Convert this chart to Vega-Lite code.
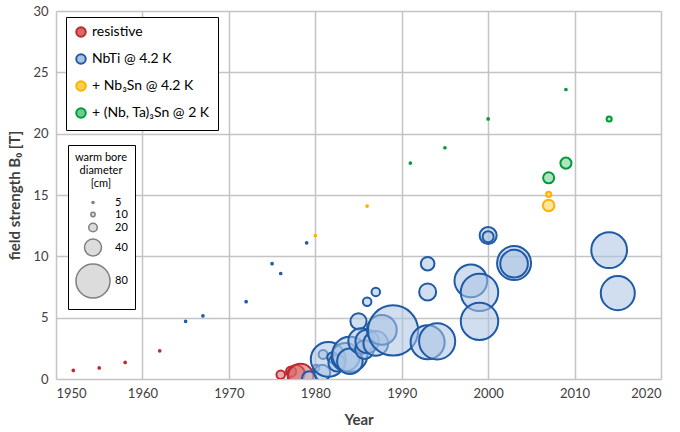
{
  "$schema": "https://vega.github.io/schema/vega-lite/v6.json",
  "width": 605,
  "height": 368,
  "autosize": {"type": "none"},
  "padding": {"left": 56, "top": 11, "right": 19, "bottom": 53},
  "background": "white",
  "config": {
    "font": "Lato",
    "view": {"stroke": null},
    "axis": {
      "grid": true,
      "gridColor": "#c4c4c4",
      "gridWidth": 1.5,
      "domain": false,
      "ticks": false,
      "labelFont": "Lato",
      "labelFontSize": 13,
      "labelColor": "#404040",
      "titleFont": "Lato",
      "titleFontSize": 15,
      "titleFontWeight": "bold",
      "titleColor": "#404040"
    }
  },
  "data": {
    "values": [
      {"year": 1952, "field": 0.7, "bore": 4, "type": "resistive"},
      {"year": 1955, "field": 0.9, "bore": 4, "type": "resistive"},
      {"year": 1958, "field": 1.35, "bore": 4, "type": "resistive"},
      {"year": 1962, "field": 2.3, "bore": 4, "type": "resistive"},
      {"year": 1976, "field": 0.35, "bore": 20, "type": "resistive"},
      {"year": 1977.2, "field": 0.6, "bore": 24, "type": "resistive"},
      {"year": 1977.8, "field": 0.45, "bore": 40, "type": "resistive"},
      {"year": 1978.3, "field": 0.2, "bore": 60, "type": "resistive"},
      {"year": 1965, "field": 4.7, "bore": 4, "type": "NbTi @ 4.2 K"},
      {"year": 1967, "field": 5.15, "bore": 4, "type": "NbTi @ 4.2 K"},
      {"year": 1972, "field": 6.3, "bore": 4, "type": "NbTi @ 4.2 K"},
      {"year": 1975, "field": 9.4, "bore": 4, "type": "NbTi @ 4.2 K"},
      {"year": 1976, "field": 8.6, "bore": 4, "type": "NbTi @ 4.2 K"},
      {"year": 1979, "field": 11.1, "bore": 4, "type": "NbTi @ 4.2 K"},
      {"year": 1979.3, "field": 0.05, "bore": 34, "type": "NbTi @ 4.2 K"},
      {"year": 1980.1, "field": 0.9, "bore": 15, "type": "NbTi @ 4.2 K"},
      {"year": 1980.8, "field": 0.5, "bore": 38, "type": "NbTi @ 4.2 K"},
      {"year": 1980.9, "field": 2.0, "bore": 21, "type": "NbTi @ 4.2 K"},
      {"year": 1981.5, "field": 1.6, "bore": 82, "type": "NbTi @ 4.2 K"},
      {"year": 1982.0, "field": 1.75, "bore": 25, "type": "NbTi @ 4.2 K"},
      {"year": 1982.5, "field": 1.3, "bore": 40, "type": "NbTi @ 4.2 K"},
      {"year": 1983.5, "field": 1.8, "bore": 66, "type": "NbTi @ 4.2 K"},
      {"year": 1984.0, "field": 2.0, "bore": 83, "type": "NbTi @ 4.2 K"},
      {"year": 1984.0, "field": 1.45, "bore": 60, "type": "NbTi @ 4.2 K"},
      {"year": 1985.0, "field": 4.7, "bore": 38, "type": "NbTi @ 4.2 K"},
      {"year": 1985.3, "field": 3.1, "bore": 60, "type": "NbTi @ 4.2 K"},
      {"year": 1985.7, "field": 2.4, "bore": 44, "type": "NbTi @ 4.2 K"},
      {"year": 1986, "field": 3.07, "bore": 55, "type": "NbTi @ 4.2 K"},
      {"year": 1986, "field": 6.3, "bore": 20, "type": "NbTi @ 4.2 K"},
      {"year": 1987, "field": 7.1, "bore": 20, "type": "NbTi @ 4.2 K"},
      {"year": 1987, "field": 2.9, "bore": 58, "type": "NbTi @ 4.2 K"},
      {"year": 1987.7, "field": 4.0, "bore": 70, "type": "NbTi @ 4.2 K"},
      {"year": 1989, "field": 3.96, "bore": 118, "type": "NbTi @ 4.2 K"},
      {"year": 1993, "field": 9.4, "bore": 32, "type": "NbTi @ 4.2 K"},
      {"year": 1993, "field": 7.1, "bore": 40, "type": "NbTi @ 4.2 K"},
      {"year": 1993, "field": 3.0, "bore": 80, "type": "NbTi @ 4.2 K"},
      {"year": 1994.1, "field": 3.07, "bore": 85, "type": "NbTi @ 4.2 K"},
      {"year": 1998, "field": 8.0, "bore": 77, "type": "NbTi @ 4.2 K"},
      {"year": 1999, "field": 7.06, "bore": 88, "type": "NbTi @ 4.2 K"},
      {"year": 1999, "field": 4.7, "bore": 88, "type": "NbTi @ 4.2 K"},
      {"year": 2000, "field": 11.7, "bore": 40, "type": "NbTi @ 4.2 K"},
      {"year": 2000, "field": 11.6, "bore": 26, "type": "NbTi @ 4.2 K"},
      {"year": 2003, "field": 9.45, "bore": 80, "type": "NbTi @ 4.2 K"},
      {"year": 2003, "field": 9.4, "bore": 65, "type": "NbTi @ 4.2 K"},
      {"year": 2014, "field": 10.5, "bore": 84, "type": "NbTi @ 4.2 K"},
      {"year": 2015, "field": 7.0, "bore": 80, "type": "NbTi @ 4.2 K"},
      {"year": 1980, "field": 11.7, "bore": 4, "type": "+ Nb₃Sn @ 4.2 K"},
      {"year": 1986, "field": 14.1, "bore": 4, "type": "+ Nb₃Sn @ 4.2 K"},
      {"year": 2007, "field": 15.05, "bore": 12, "type": "+ Nb₃Sn @ 4.2 K"},
      {"year": 2007, "field": 14.15, "bore": 27, "type": "+ Nb₃Sn @ 4.2 K"},
      {"year": 1991, "field": 17.6, "bore": 4, "type": "+ (Nb, Ta)₃Sn @ 2 K"},
      {"year": 1995, "field": 18.85, "bore": 4, "type": "+ (Nb, Ta)₃Sn @ 2 K"},
      {"year": 2000, "field": 21.2, "bore": 4, "type": "+ (Nb, Ta)₃Sn @ 2 K"},
      {"year": 2009, "field": 23.6, "bore": 4, "type": "+ (Nb, Ta)₃Sn @ 2 K"},
      {"year": 2014, "field": 21.2, "bore": 12, "type": "+ (Nb, Ta)₃Sn @ 2 K"},
      {"year": 2007, "field": 16.4, "bore": 26, "type": "+ (Nb, Ta)₃Sn @ 2 K"},
      {"year": 2009, "field": 17.6, "bore": 26, "type": "+ (Nb, Ta)₃Sn @ 2 K"}
    ]
  },
  "mark": {"type": "circle", "opacity": 1, "fillOpacity": 0.55, "strokeWidth": 2, "clip": true},
  "encoding": {
    "x": {
      "field": "year",
      "type": "quantitative",
      "title": "Year",
      "scale": {"domain": [1950, 2020], "nice": false, "zero": false},
      "axis": {"values": [1950, 1960, 1970, 1980, 1990, 2000, 2010, 2020], "format": "d", "labelPadding": 8, "titlePadding": 12}
    },
    "y": {
      "field": "field",
      "type": "quantitative",
      "title": "field strength B₀ [T]",
      "scale": {"domain": [0, 30], "nice": false},
      "axis": {"values": [0, 5, 10, 15, 20, 25, 30], "labelPadding": 8, "titlePadding": 10}
    },
    "fill": {
      "field": "type",
      "type": "nominal",
      "scale": {
        "domain": ["resistive", "NbTi @ 4.2 K", "+ Nb₃Sn @ 4.2 K", "+ (Nb, Ta)₃Sn @ 2 K"],
        "range": ["#d46a6a", "#aac2e4", "#ffd24d", "#6fcc90"]
      },
      "legend": {
        "title": null,
        "orient": "none",
        "legendX": 10,
        "legendY": 6,
        "padding": 8,
        "strokeColor": "#000000",
        "fillColor": "white",
        "labelFontSize": 14,
        "labelColor": "#000000",
        "rowPadding": 9,
        "symbolSize": 90,
        "symbolStrokeWidth": 2,
        "symbolType": "circle",
        "labelLimit": 300
      }
    },
    "stroke": {
      "field": "type",
      "type": "nominal",
      "scale": {
        "domain": ["resistive", "NbTi @ 4.2 K", "+ Nb₃Sn @ 4.2 K", "+ (Nb, Ta)₃Sn @ 2 K"],
        "range": ["#c0282d", "#1f5aa6", "#ffb000", "#009a3a"]
      },
      "legend": {
        "title": null,
        "orient": "none",
        "legendX": 10,
        "legendY": 6,
        "padding": 8,
        "strokeColor": "#000000",
        "fillColor": "white",
        "labelFontSize": 14,
        "labelColor": "#000000",
        "rowPadding": 9,
        "symbolSize": 90,
        "symbolStrokeWidth": 2,
        "symbolType": "circle",
        "labelLimit": 300
      }
    },
    "size": {
      "field": "bore",
      "type": "quantitative",
      "scale": {"type": "pow", "exponent": 2, "domain": [0, 80], "range": [0, 1158], "clamp": false},
      "legend": {
        "title": ["warm bore", "diameter", "[cm]"],
        "orient": "none",
        "legendX": 12,
        "legendY": 134,
        "padding": 7,
        "strokeColor": "#000000",
        "fillColor": "white",
        "titleFontSize": 11,
        "titleFontWeight": "normal",
        "titleAlign": "center",
        "titleAnchor": "middle",
        "titleColor": "#000000",
        "titlePadding": 8,
        "labelFontSize": 11,
        "labelColor": "#000000",
        "values": [5, 10, 20, 40, 80],
        "symbolFillColor": "#dcdcdc",
        "symbolStrokeColor": "#7f7f7f",
        "symbolStrokeWidth": 1.5,
        "symbolOpacity": 1,
        "rowPadding": 0
      }
    }
  }
}
